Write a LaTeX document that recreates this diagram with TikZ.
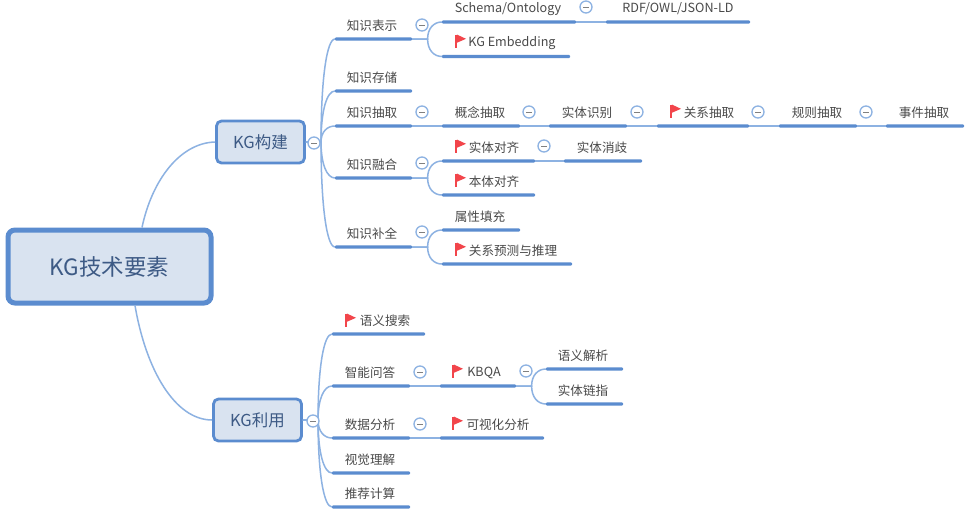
\documentclass[tikz,border=0pt]{standalone}
\usepackage{fontspec}
\setmainfont{Noto Sans CJK SC}
\usetikzlibrary{calc}
\definecolor{mainblue}{HTML}{5B8CCF}
\definecolor{linkblue}{HTML}{8DB2E2}
\definecolor{fillblue}{HTML}{D9E3F0}
\definecolor{darktext}{HTML}{3D5A85}
\definecolor{leaftext}{HTML}{4A4A4A}
\definecolor{flagred}{HTML}{F2454B}
\tikzset{
  rootbox/.style={draw=mainblue,fill=fillblue,line width=5pt,rounded corners=7pt,minimum width=203pt,minimum height=73pt,inner sep=0pt,text=darktext,font=\fontsize{22.5}{23}\selectfont},
  mainbox/.style={draw=mainblue,fill=fillblue,line width=2.8pt,rounded corners=5pt,minimum width=88pt,minimum height=42pt,inner sep=0pt,text=darktext,font=\fontsize{16.5}{17}\selectfont},
  barnode/.style={fill=mainblue,inner sep=0pt,outer sep=0pt,minimum height=3.2pt,anchor=west,rounded corners=1pt},
  labelnode/.style={inner sep=0pt,text=leaftext,font=\fontsize{12.6}{13}\selectfont},
  link/.style={draw=linkblue,line width=1.5pt},
  branch/.style={to path={
    let \p1=(\tikztostart), \p2=(\tikztotarget), \n1={\x1+.52*(\x2-\x1)} in
    -- (\n1,\y1) .. controls (\n1,{\y1+.62*(\y2-\y1)}) and ({\n1+.42*(\x2-\n1)},\y2) .. (\tikztotarget)}},
  fold/.style={circle,draw=linkblue,fill=white,line width=1.3pt,minimum size=12pt,inner sep=0pt,
    path picture={\draw[leaftext!70,line width=.8pt] ($(path picture bounding box.center)+(-2.6,0)$) -- ($(path picture bounding box.center)+(2.6,0)$);}},
}
\newcommand\tp[6]{% name, x1, x2, ybar, text x, label
  \pgfmathsetmacro\barw{#3-#2}
  \node[barnode,minimum width=\barw pt] (#1) at (#2,#4) {};
  \node[labelnode] (#1t) at (#5,#4-13.2) {#6};
}
\newcommand\flagat[2]{%
  \fill[flagred] (#1-.8,#2-6.5) rectangle (#1+.8,#2+6.5);
  \fill[flagred] (#1+.8,#2-6.5) -- (#1+10,#2-2.2) -- (#1+.8,#2+1.8) -- cycle;
}
\begin{document}
\begin{tikzpicture}[x=1pt,y=-1pt]
\useasboundingbox (0,0) rectangle (967,515);
\fill[white] (0,0) rectangle (967,515);

% main nodes
\node[rootbox] (root) at (109.5,266.5) {KG技术要素};
\node[mainbox] (build) at (260.5,142) {KG构建};
\node[mainbox] (use) at (257.5,420) {KG利用};

% upper topics
\tp{rep}{335}{412}{39}{372}{知识表示}
\tp{store}{335}{412}{91}{372}{知识存储}
\tp{extract}{335}{412}{126}{372}{知识抽取}
\tp{fuse}{335}{412}{178}{372}{知识融合}
\tp{complete}{335}{412}{247}{372}{知识补全}
\tp{schema}{442}{576}{22}{508}{Schema/Ontology}
\tp{rdf}{606}{750}{22}{678}{RDF/OWL/JSON-LD}
\tp{embed}{442}{570}{56.5}{512}{KG Embedding}
\tp{concept}{442}{520}{126}{480}{概念抽取}
\tp{entity}{549}{627}{126}{587}{实体识别}
\tp{relation}{657}{749}{126}{709}{关系抽取}
\tp{rule}{779}{857}{126}{817}{规则抽取}
\tp{event}{886}{964}{126}{924}{事件抽取}
\tp{align}{442}{535}{161}{494}{实体对齐}
\tp{disamb}{564}{642}{161}{602}{实体消歧}
\tp{onto}{442}{535}{195}{494}{本体对齐}
\tp{attr}{442}{520}{230}{480}{属性填充}
\tp{predict}{442}{572}{264}{513}{关系预测与推理}

% lower topics
\tp{search}{332}{425}{334}{385}{语义搜索}
\tp{qa}{332}{410}{386}{370}{智能问答}
\tp{data}{332}{410}{438}{370}{数据分析}
\tp{vision}{332}{410}{473}{370}{视觉理解}
\tp{recommend}{332}{410}{507}{370}{推荐计算}
\tp{kbqa}{440}{516}{386}{484}{KBQA}
\tp{visual}{440}{544}{438}{498}{可视化分析}
\tp{parse}{546}{623}{369}{583}{语义解析}
\tp{link}{546}{623}{404}{583}{实体链指}

% connectors
\coordinate (rootup) at (root.north -| 142,0);
\coordinate (rootdown) at (root.south -| 135,0);
\draw[link] (rootup) .. controls (152,180) and (180,143) .. (build.west);
\draw[link] (rootdown) .. controls (146,370) and (175,420) .. (use.west);
\foreach \c in {rep,store,extract,fuse,complete}
  \draw[link] (build.east) to[branch] (\c.west);
\foreach \c in {search,qa,data,vision,recommend}
  \draw[link] (use.east) to[branch] (\c.west);
\draw[link] (rep.east) to[branch] (schema.west);
\draw[link] (rep.east) to[branch] (embed.west);
\draw[link] (schema.east) -- (rdf.west);
\draw[link] (extract.east) -- (concept.west);
\draw[link] (concept.east) -- (entity.west);
\draw[link] (entity.east) -- (relation.west);
\draw[link] (relation.east) -- (rule.west);
\draw[link] (rule.east) -- (event.west);
\draw[link] (fuse.east) to[branch] (align.west);
\draw[link] (fuse.east) to[branch] (onto.west);
\draw[link] (align.east) -- (disamb.west);
\draw[link] (complete.east) to[branch] (attr.west);
\draw[link] (complete.east) to[branch] (predict.west);
\draw[link] (qa.east) -- (kbqa.west);
\draw[link] (kbqa.east) to[branch] (parse.west);
\draw[link] (kbqa.east) to[branch] (link.west);
\draw[link] (data.east) -- (visual.west);

% fold markers
\node[fold] (f1) at (314,143) {};
\node[fold] (f2) at (422,25) {};
\node[fold] (f3) at (586,7) {};
\node[fold] (f4) at (422,112) {};
\node[fold] (f5) at (529,112) {};
\node[fold] (f6) at (637,112) {};
\node[fold] (f7) at (758,112) {};
\node[fold] (f8) at (866,112) {};
\node[fold] (f9) at (422,163) {};
\node[fold] (f10) at (544,146) {};
\node[fold] (f11) at (422,232) {};
\node[fold] (f12) at (313,421) {};
\node[fold] (f13) at (420,372) {};
\node[fold] (f14) at (526,371) {};
\node[fold] (f15) at (420,424) {};

% flags
\flagat{456}{41}
\flagat{671}{111}
\flagat{456}{146}
\flagat{456}{180}
\flagat{456}{249}
\flagat{346}{320}
\flagat{453}{371}
\flagat{453}{423}
\end{tikzpicture}
\end{document}
